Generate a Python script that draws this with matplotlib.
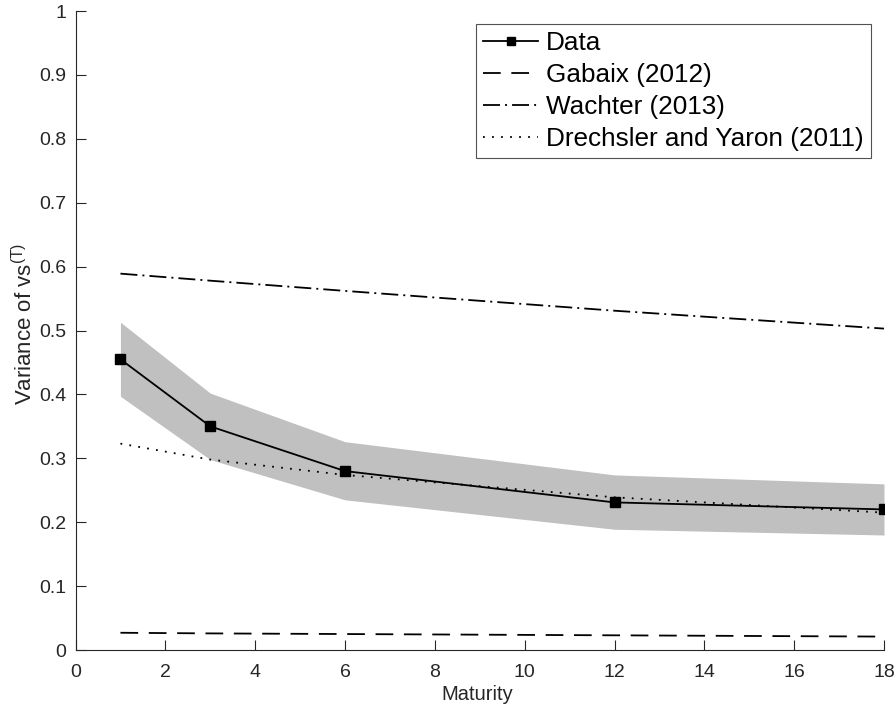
import matplotlib
matplotlib.use("Agg")
import matplotlib.pyplot as plt
import numpy as np

plt.rcParams['font.family'] = ['Liberation Sans', 'DejaVu Sans']
plt.rcParams['mathtext.fontset'] = 'custom'
plt.rcParams['mathtext.rm'] = 'Liberation Sans'
plt.rcParams['mathtext.it'] = 'Liberation Sans'
plt.rcParams['mathtext.default'] = 'regular'

maturity = [1, 3, 6, 12, 18]
data_vals = [0.455, 0.350, 0.280, 0.231, 0.220]
band_upper = [0.513, 0.402, 0.326, 0.274, 0.260]
band_lower = [0.397, 0.298, 0.235, 0.189, 0.180]
gabaix = [0.027, 0.026, 0.025, 0.023, 0.021]
wachter = [0.589, 0.578, 0.562, 0.531, 0.503]
drechsler = [0.323, 0.298, 0.274, 0.239, 0.215]

xticks = [0, 2, 4, 6, 8, 10, 12, 14, 16, 18]
yticks = [0, 0.1, 0.2, 0.3, 0.4, 0.5, 0.6, 0.7, 0.8, 0.9, 1]
yticklabels = ['0', '0.1', '0.2', '0.3', '0.4', '0.5', '0.6', '0.7', '0.8', '0.9', '1']

fig = plt.figure(figsize=(8.96, 7.06), dpi=100)
ax = fig.add_axes([0.0843, 0.0793, 0.9023, 0.9051])

axcol = '#262626'
lw = 1.3
ax.fill_between(maturity, band_lower, band_upper, color='#c0c0c0', lw=0)
ax.plot(maturity, data_vals, '-s', color='black', lw=lw, ms=7, label='Data')
ax.plot(maturity, gabaix, color='black', lw=lw, dashes=(9.8, 5.9), label='Gabaix (2012)')
ax.plot(maturity, wachter, color='black', lw=lw, dashes=(9.4, 2.8, 1.1, 2.8), label='Wachter (2013)')
ax.plot(maturity, drechsler, color='black', lw=lw, dashes=(1.0, 4.0), label='Drechsler and Yaron (2011)')

ax.set_xlim(0, 18)
ax.set_ylim(0, 1)
ax.set_xticks(xticks)
ax.set_xticklabels([str(t) for t in xticks])
ax.set_yticks(yticks)
ax.set_yticklabels(yticklabels)
ax.tick_params(direction='in', length=7, width=0.8, color=axcol, labelcolor=axcol, labelsize=14)
ax.tick_params(axis='x', pad=10)
ax.tick_params(axis='y', pad=6.5)
for s in ['top', 'right']:
    ax.spines[s].set_visible(False)
for s in ['left', 'bottom']:
    ax.spines[s].set_color(axcol)
    ax.spines[s].set_linewidth(0.8)

ax.set_xlabel('Maturity', fontsize=14.5, color=axcol)
ax.set_ylabel('Variance of vs$^{(T)}$', fontsize=16, color=axcol)
ax.xaxis.set_label_coords(0.497, -0.054)
ax.yaxis.set_label_coords(-0.047, 0.51)

leg = ax.legend(loc='upper right', bbox_to_anchor=(1.0, 1.0), fontsize=18.8,
                handlelength=2.1, handletextpad=0.3, borderpad=0.28, labelspacing=0.3,
                fancybox=False, frameon=True, borderaxespad=0.5, markerscale=0.75)
leg.get_frame().set_edgecolor(axcol)
leg.get_frame().set_linewidth(0.8)

fig.savefig('out.png', dpi=100)
